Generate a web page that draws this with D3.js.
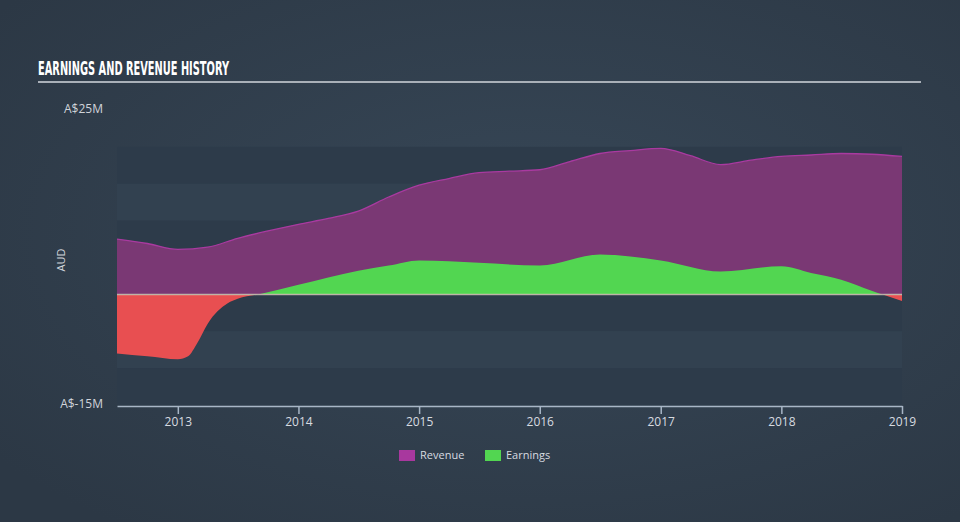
<!DOCTYPE html>
<html>
<head>
<meta charset="utf-8">
<script src="https://cdn.jsdelivr.net/npm/d3@7"></script>
<style>
  html, body { margin: 0; padding: 0; background: #313f4e; }
  svg { display: block; }
</style>
</head>
<body>
<div id="chart"></div>
<script>
// data (A$ millions)
const revDates = ["2012-07","2012-10","2013-01","2013-04","2013-07","2013-10","2014-01","2014-04","2014-07","2014-10",
                  "2015-01","2015-04","2015-07","2015-10","2016-01","2016-04","2016-07","2016-10","2017-01","2017-04",
                  "2017-07","2017-10","2018-01","2018-04","2018-07","2018-10","2019-01"];
const revenue = [7.5, 6.9, 6.1, 6.4, 7.6, 8.6, 9.5, 10.3, 11.3, 13.2,
                 14.8, 15.7, 16.5, 16.7, 16.9, 18.0, 19.1, 19.5, 19.8, 18.8,
                 17.6, 18.2, 18.7, 18.9, 19.1, 19.0, 18.7];
const earnDates = ["2012-07","2012-10","2013-01","2013-02","2013-03","2013-04","2013-05","2013-06","2013-07","2013-09",
                   "2014-01","2014-04","2014-07","2014-10","2015-01","2015-07","2016-01","2016-07","2017-01","2017-07",
                   "2018-01","2018-04","2018-07","2018-10","2019-01"];
const earnings = [-8.0, -8.4, -8.8, -8.4, -6.6, -4.0, -2.3, -1.2, -0.6, 0.0,
                  1.3, 2.3, 3.2, 3.9, 4.6, 4.3, 3.9, 5.4, 4.6, 3.1,
                  3.8, 2.9, 2.0, 0.5, -0.9];
const yearTicks = [2013, 2014, 2015, 2016, 2017, 2018, 2019];
const bandStops = [20, 15, 10, 5, 0, -5, -10, -15];

const width = 960, height = 522;
const parse = d3.timeParse("%Y-%m");
const revData = revDates.map((d, i) => ({date: parse(d), value: revenue[i]}));
const earnData = earnDates.map((d, i) => ({date: parse(d), value: earnings[i]}));

const svg = d3.select("#chart").append("svg")
    .attr("width", width)
    .attr("height", height);

const defs = svg.append("defs");
let bg = defs.append("radialGradient").attr("id", "bg")
    .attr("cx", "55%").attr("cy", "45%").attr("r", "70%");
bg.append("stop").attr("offset", "0%").attr("stop-color", "#374757");
bg.append("stop").attr("offset", "100%").attr("stop-color", "#2c3845");

svg.append("rect").attr("width", width).attr("height", height).attr("fill", "url(#bg)");

// title (condensed face squeezed to the reference width)
svg.append("text")
    .attr("x", 38).attr("y", 75)
    .attr("fill", "#ffffff")
    .attr("textLength", 191)
    .attr("lengthAdjust", "spacingAndGlyphs")
    .style("font-family", "'DejaVu Sans Condensed', 'Liberation Sans Narrow', sans-serif")
    .style("font-weight", "bold")
    .style("font-size", "19px")
    .text("EARNINGS AND REVENUE HISTORY");
svg.append("line")
    .attr("x1", 38).attr("x2", 921).attr("y1", 82).attr("y2", 82)
    .attr("stroke", "#a9b0b8").attr("stroke-width", 2);

const x = d3.scaleTime()
    .domain([parse("2012-07"), parse("2019-01")])
    .range([117, 902]);
const y = d3.scaleLinear()
    .domain([-15, 25])
    .range([405, 110]);

// background bands
for (let i = 0; i < bandStops.length - 1; i++) {
    svg.append("rect")
        .attr("x", x.range()[0])
        .attr("width", x.range()[1] - x.range()[0])
        .attr("y", y(bandStops[i]))
        .attr("height", y(bandStops[i + 1]) - y(bandStops[i]))
        .attr("fill", i % 2 === 0 ? "#2d3b4a" : "#324150");
}

// clip paths for positive / negative earnings
defs.append("clipPath").attr("id", "above")
    .append("rect").attr("x", 0).attr("y", 0).attr("width", width).attr("height", y(0));
defs.append("clipPath").attr("id", "below")
    .append("rect").attr("x", 0).attr("y", y(0)).attr("width", width).attr("height", height - y(0));

const curve = d3.curveMonotoneX;

// revenue
svg.append("path")
    .datum(revData)
    .attr("fill", "#7a3874")
    .attr("d", d3.area().curve(curve).x(d => x(d.date)).y0(y(0)).y1(d => y(d.value)));
svg.append("path")
    .datum(revData)
    .attr("fill", "none")
    .attr("stroke", "#a93aa0")
    .attr("stroke-width", 1.3)
    .attr("d", d3.line().curve(curve).x(d => x(d.date)).y(d => y(d.value)));

// earnings
let earnArea = d3.area().curve(curve).x(d => x(d.date)).y0(y(0)).y1(d => y(d.value));
svg.append("path")
    .datum(earnData)
    .attr("clip-path", "url(#above)")
    .attr("fill", "#52d651")
    .attr("d", earnArea);
svg.append("path")
    .datum(earnData)
    .attr("clip-path", "url(#below)")
    .attr("fill", "#e84f51")
    .attr("d", earnArea);

// zero line
svg.append("line")
    .attr("x1", x.range()[0]).attr("x2", x.range()[1])
    .attr("y1", y(0)).attr("y2", y(0))
    .attr("stroke", "#d6d0c0").attr("stroke-opacity", 0.75).attr("stroke-width", 1.5);

// x axis
let xAxis = svg.append("g")
    .attr("transform", `translate(0,${y(-15) + 1})`)
    .call(d3.axisBottom(x)
        .tickValues(yearTicks.map(t => new Date(t, 0, 1)))
        .tickFormat(d3.timeFormat("%Y"))
        .tickSize(8)
        .tickSizeOuter(0)
        .tickPadding(3));
xAxis.select(".domain").attr("stroke", "#a8b6c6").attr("stroke-width", 1.5);
xAxis.selectAll(".tick line").attr("stroke", "#a8b6c6").attr("stroke-width", 1.5);
xAxis.selectAll("text")
    .attr("fill", "#d7dbe0")
    .style("font-family", "'Open Sans', sans-serif")
    .style("font-size", "12px");

// y labels
const yLabelStyle = sel => sel
    .attr("fill", "#d0d4da")
    .style("font-family", "'Open Sans', sans-serif")
    .style("font-size", "12px")
    .attr("text-anchor", "end")
    .attr("dominant-baseline", "middle");
svg.append("text").attr("x", 103).attr("y", y(25)).text("A$25M").call(yLabelStyle);
svg.append("text").attr("x", 103).attr("y", y(-15)).text("A$-15M").call(yLabelStyle);

svg.append("text")
    .attr("transform", "translate(62,260) rotate(-90)")
    .attr("text-anchor", "middle")
    .attr("dominant-baseline", "middle")
    .attr("fill", "#d0d4da")
    .style("font-family", "'Open Sans', sans-serif")
    .style("font-size", "11px")
    .text("AUD");

// legend
const legend = [
    {name: "Revenue", color: "#a8389e", x: 399},
    {name: "Earnings", color: "#52d651", x: 485}
];
let lg = svg.selectAll(".legend").data(legend).enter().append("g")
    .attr("transform", d => `translate(${d.x},450)`);
lg.append("rect").attr("width", 16).attr("height", 11).attr("fill", d => d.color);
lg.append("text")
    .attr("x", 21).attr("y", 6)
    .attr("dominant-baseline", "middle")
    .attr("fill", "#d7dbe0")
    .style("font-family", "'Open Sans', sans-serif")
    .style("font-size", "11px")
    .text(d => d.name);
</script>
</body>
</html>
